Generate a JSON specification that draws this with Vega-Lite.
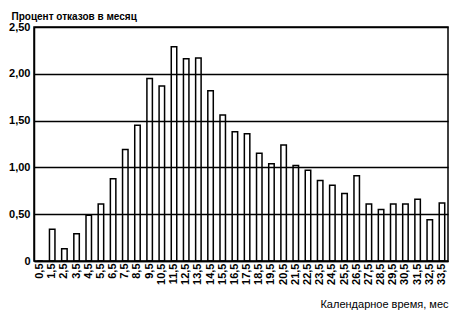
{
  "$schema": "https://vega.github.io/schema/vega-lite/v6.json",
  "autosize": {"type": "none"},
  "width": 414,
  "height": 234,
  "padding": {"left": 34, "top": 27, "right": 13, "bottom": 59},
  "background": "white",
  "config": {
    "view": {"stroke": "black", "strokeWidth": 1.5},
    "font": "Liberation Sans"
  },
  "data": {
    "values": [
      {"month": "0,5", "pct": 0},
      {"month": "1,5", "pct": 0.34},
      {"month": "2,5", "pct": 0.13},
      {"month": "3,5", "pct": 0.29},
      {"month": "4,5", "pct": 0.49},
      {"month": "5,5", "pct": 0.61},
      {"month": "6,5", "pct": 0.88},
      {"month": "7,5", "pct": 1.19},
      {"month": "8,5", "pct": 1.45},
      {"month": "9,5", "pct": 1.95},
      {"month": "10,5", "pct": 1.87},
      {"month": "11,5", "pct": 2.29},
      {"month": "12,5", "pct": 2.16},
      {"month": "13,5", "pct": 2.17},
      {"month": "14,5", "pct": 1.82},
      {"month": "15,5", "pct": 1.56},
      {"month": "16,5", "pct": 1.38},
      {"month": "17,5", "pct": 1.36},
      {"month": "18,5", "pct": 1.15},
      {"month": "19,5", "pct": 1.04},
      {"month": "20,5", "pct": 1.24},
      {"month": "21,5", "pct": 1.02},
      {"month": "22,5", "pct": 0.97},
      {"month": "23,5", "pct": 0.86},
      {"month": "24,5", "pct": 0.81},
      {"month": "25,5", "pct": 0.72},
      {"month": "26,5", "pct": 0.91},
      {"month": "27,5", "pct": 0.61},
      {"month": "28,5", "pct": 0.55},
      {"month": "29,5", "pct": 0.61},
      {"month": "30,5", "pct": 0.61},
      {"month": "31,5", "pct": 0.66},
      {"month": "32,5", "pct": 0.44},
      {"month": "33,5", "pct": 0.62}
    ]
  },
  "mark": {"type": "bar", "fill": "transparent", "stroke": "black", "strokeWidth": 1.5},
  "encoding": {
    "x": {
      "field": "month",
      "type": "nominal",
      "sort": null,
      "scale": {"paddingInner": 0.55, "paddingOuter": 0.27},
      "axis": {
        "title": "Календарное время, мес",
        "titleFont": "Liberation Sans",
        "titleFontWeight": "normal",
        "titleFontSize": 11,
        "titleColor": "black",
        "titleAnchor": "end",
        "titleAlign": "right",
        "titleX": 414,
        "titleY": 37,
        "labelAngle": -90,
        "labelAlign": "right",
        "labelBaseline": "middle",
        "labelFontSize": 11,
        "labelFontWeight": "bold",
        "labelColor": "black",
        "labelPadding": 2,
        "ticks": false,
        "domainColor": "black",
        "domainWidth": 1.5
      }
    },
    "y": {
      "field": "pct",
      "type": "quantitative",
      "scale": {"domain": [0, 2.5]},
      "axis": {
        "values": [0, 0.5, 1, 1.5, 2, 2.5],
        "labelExpr": "datum.value == 0 ? '0' : replace(format(datum.value, '.2f'), '.', ',')",
        "labelFontSize": 11,
        "labelFontWeight": "bold",
        "labelColor": "black",
        "labelPadding": 4,
        "ticks": false,
        "grid": true,
        "gridColor": "black",
        "gridWidth": 1.5,
        "gridOpacity": 1,
        "domainColor": "black",
        "domainWidth": 1.5,
        "title": "Процент отказов в месяц",
        "titleFont": "Liberation Sans",
        "titleFontSize": 10,
        "titleFontWeight": "bold",
        "titleColor": "black",
        "titleAngle": 0,
        "titleAlign": "left",
        "titleBaseline": "middle",
        "titleX": -23,
        "titleY": -11
      }
    }
  }
}
